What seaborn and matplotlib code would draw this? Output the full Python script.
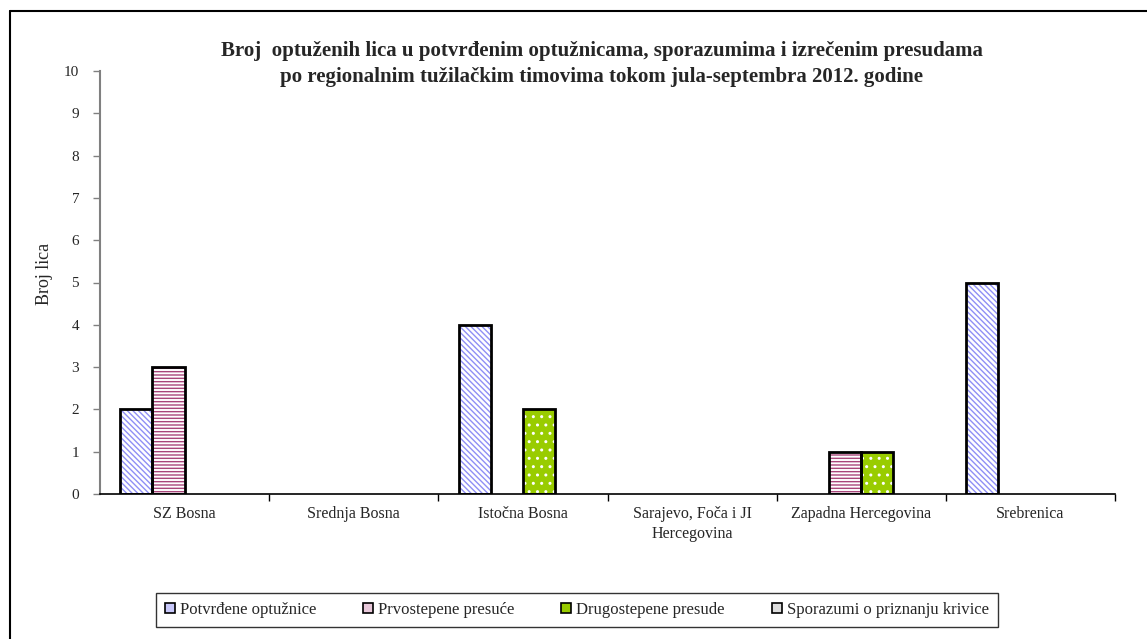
import matplotlib
matplotlib.use("Agg")
import matplotlib.pyplot as plt
import seaborn as sns
import pandas as pd
from matplotlib.patches import Rectangle, Patch
from matplotlib.lines import Line2D

categories = ["SZ Bosna", "Srednja Bosna", "Istočna Bosna",
              "Sarajevo, Foča i JI\nHercegovina", "Zapadna Hercegovina", "Srebrenica"]
series = ["Potvrđene optužnice", "Prvostepene presuće", "Drugostepene presude",
          "Sporazumi o priznanju krivice"]
potvrdjene = [2, 0, 4, 0, 0, 5]
prvostepene = [3, 0, 0, 0, 1, 0]
drugostepene = [0, 0, 2, 0, 1, 0]
sporazumi = [0, 0, 0, 0, 0, 0]
yticks = list(range(0, 11))

title = ("Broj  optuženih lica u potvrđenim optužnicama, sporazumima i izrečenim presudama\n"
         "po regionalnim tužilačkim timovima tokom jula-septembra 2012. godine")

rows = []
for s, vals in zip(series, [potvrdjene, prvostepene, drugostepene, sporazumi]):
    for c, v in zip(categories, vals):
        rows.append({"Region": c, "Serija": s, "Broj": v})
df = pd.DataFrame(rows)

sns.set_theme(style="white")
plt.rcParams["font.family"] = ["Liberation Serif", "DejaVu Serif"]
plt.rcParams["hatch.linewidth"] = 1.0

styles = {
    series[0]: dict(face="white", hatch="\\\\\\\\\\\\", hcol="#8F8FF5"),
    series[1]: dict(face="white", hatch="-----", hcol="#A8457A"),
    series[2]: dict(face="#99CC00", hatch="..", hcol="white"),
    series[3]: dict(face="white", hatch="", hcol="black"),
}

fig = plt.figure(figsize=(11.47, 6.39), dpi=100)
ax = fig.add_axes([100/1147, 1-494/639, (1115-100)/1147, (494-71)/639])

sns.barplot(data=df, x="Region", y="Broj", hue="Serija", order=categories,
            hue_order=series, width=0.76, gap=0, ax=ax, legend=False,
            palette=["white"]*4, saturation=1, errorbar=None)

n = len(categories)
bars = [p for p in ax.patches if isinstance(p, Rectangle)]
for i, p in enumerate(bars[:n*len(series)]):
    s = series[i // n]
    st = styles[s]
    p.set_facecolor(st["face"])
    p.set_hatch(st["hatch"])
    p.set_edgecolor(st["hcol"])
    p.set_linewidth(0)
    if p.get_height() > 0:
        ax.add_patch(Rectangle((p.get_x(), p.get_y()), p.get_width(), p.get_height(),
                               fill=False, edgecolor="black", linewidth=2, zorder=3))

ax.set_xlim(-0.5, n - 0.5)
ax.set_ylim(0, 10)
ax.set_yticks(yticks)
ax.set_yticklabels([str(t) for t in yticks], fontsize=11)
ax.set_xticks(range(n))
ax.set_xticklabels(categories, fontsize=11.5, linespacing=1.25)
ax.set_xticks([i - 0.5 for i in range(1, n + 1)], minor=True)
ax.tick_params(axis="x", which="major", length=0, pad=9)
ax.tick_params(axis="x", which="minor", length=5, width=1, color="black", direction="out", bottom=True)
ax.tick_params(axis="y", length=5, width=1, color="#808080", direction="out", left=True, pad=10)
ax.set_xlabel("")
ax.set_ylabel("Broj lica", fontsize=13)
ax.yaxis.set_label_coords(-0.046, 0.52)

for sp in ["top", "right"]:
    ax.spines[sp].set_visible(False)
ax.spines["left"].set_color("#808080")
ax.spines["left"].set_linewidth(1.5)
ax.spines["bottom"].set_color("black")
ax.spines["bottom"].set_linewidth(1.2)

fig.text(602/1147, 1-64/639, title, ha="center", va="center", fontsize=15,
         fontweight="bold", linespacing=1.4)

fig.add_artist(Line2D([10/1147, 10/1147], [1-11/639, -0.05], color="black", lw=1.5,
                      transform=fig.transFigure))
fig.add_artist(Line2D([10/1147, 1.05], [1-11/639, 1-11/639], color="black", lw=1.5,
                      transform=fig.transFigure))

handles = [Patch(facecolor="#C8C8FA", edgecolor="black", linewidth=1.2),
           Patch(facecolor="#E8C8DA", edgecolor="black", linewidth=1.2),
           Patch(facecolor="#99CC00", edgecolor="black", linewidth=1.2),
           Patch(facecolor="#DDDDDD", edgecolor="black", linewidth=1.2)]
leg = fig.legend(handles, series, loc="center", bbox_to_anchor=(577/1147, 1-610/639),
                 ncol=4, fontsize=12, frameon=True, fancybox=False, edgecolor="black",
                 handlelength=0.6, handleheight=0.6, handletextpad=0.3, columnspacing=2.8,
                 borderpad=0.55)
leg.get_frame().set_linewidth(1.0)

fig.savefig("out.png", dpi=100)
